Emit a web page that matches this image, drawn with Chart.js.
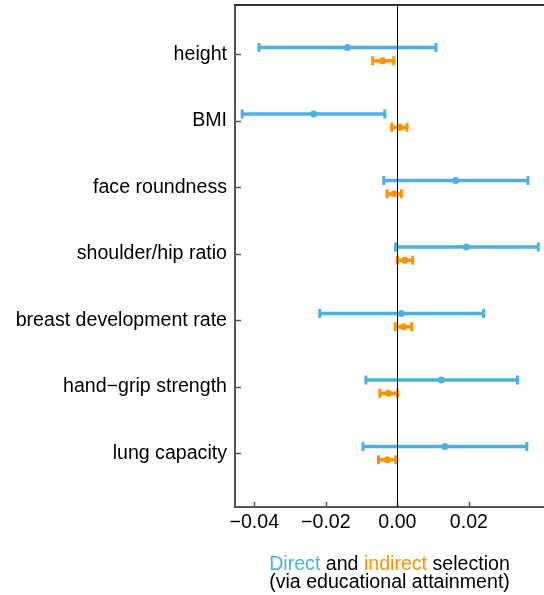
<!DOCTYPE html>
<html>
<head>
<meta charset="utf-8">
<script src="https://cdn.jsdelivr.net/npm/chart.js@4/dist/chart.umd.min.js"></script>
<style>
  html, body { margin: 0; padding: 0; background: #fff; }
  #wrap { width: 544px; height: 595px; position: relative; }
</style>
</head>
<body>
<div id="wrap"><canvas id="chart"></canvas></div>
<script>
// traits, top to bottom
const traits = ["height", "BMI", "face roundness", "shoulder/hip ratio",
  "breast development rate", "hand\u2212grip strength", "lung capacity"];

// direct selection (blue): estimate and interval
const directMid = [-0.0140, -0.0234, 0.0163, 0.0193, 0.0011, 0.0123, 0.0133];
const directLo  = [-0.0387, -0.0434, -0.0038, -0.0005, -0.0217, -0.0088, -0.0096];
const directHi  = [0.0108, -0.0035, 0.0365, 0.0394, 0.0241, 0.0336, 0.0362];

// indirect selection via educational attainment (orange)
const indirectMid = [-0.0042, 0.0007, -0.0009, 0.0021, 0.0017, -0.0025, -0.0028];
const indirectLo  = [-0.0069, -0.0016, -0.0029, 0.0000, -0.0006, -0.0049, -0.0053];
const indirectHi  = [-0.0010, 0.0027, 0.0011, 0.0043, 0.0040, 0.0000, -0.0004];

const xTicks = [-0.04, -0.02, 0.00, 0.02];

const BLUE = "#4DB0E4";
const ORANGE = "#FF9200";
const FONT = '"Liberation Sans", Arial, Helvetica, sans-serif';

Chart.defaults.font.family = FONT;
Chart.defaults.font.size = 19.6;
Chart.defaults.color = "#000";

function fmt(v) {
  return (v < 0 ? "\u2212" : "") + Math.abs(v).toFixed(2);
}

// error bars with caps, drawn from the scales
const errorBars = {
  id: "errorBars",
  beforeDatasetsDraw(chart) {
    const { ctx, scales: { x, y } } = chart;
    chart.data.datasets.forEach((ds) => {
      ctx.save();
      ctx.strokeStyle = ds.borderColor;
      ds.data.forEach((p, i) => {
        const py = y.getPixelForValue(p.y);
        const x0 = x.getPixelForValue(ds.lo[i]);
        const x1 = x.getPixelForValue(ds.hi[i]);
        ctx.lineWidth = 3.5;
        ctx.beginPath();
        ctx.moveTo(x0, py);
        ctx.lineTo(x1, py);
        ctx.stroke();
        ctx.lineWidth = 3;
        ctx.beginPath();
        ctx.moveTo(x0, py - 4.5);
        ctx.lineTo(x0, py + 4.5);
        ctx.moveTo(x1, py - 4.5);
        ctx.lineTo(x1, py + 4.5);
        ctx.stroke();
      });
      ctx.restore();
    });
  }
};

// frame bits, inward ticks, zero line and two-colour axis title
const decorations = {
  id: "decorations",
  afterDraw(chart) {
    const { ctx, chartArea: a, scales: { x, y } } = chart;
    ctx.save();
    // top border
    ctx.strokeStyle = "#333";
    ctx.lineWidth = 2;
    ctx.beginPath();
    ctx.moveTo(a.left - 1, a.top);
    ctx.lineTo(a.right, a.top);
    ctx.stroke();
    // inward ticks
    ctx.strokeStyle = "#555";
    ctx.lineWidth = 1.5;
    ctx.beginPath();
    x.ticks.forEach((t) => {
      const px = Math.round(x.getPixelForValue(t.value)) + 0.5;
      ctx.moveTo(px, a.bottom);
      ctx.lineTo(px, a.bottom - 5);
    });
    y.ticks.forEach((t) => {
      const py = Math.round(y.getPixelForValue(t.value)) + 0.5;
      ctx.moveTo(a.left, py);
      ctx.lineTo(a.left + 6, py);
    });
    ctx.stroke();
    // zero line
    const zx = Math.round(x.getPixelForValue(0)) + 0.5;
    ctx.strokeStyle = "#000";
    ctx.lineWidth = 1;
    ctx.beginPath();
    ctx.moveTo(zx, a.top);
    ctx.lineTo(zx, a.bottom);
    ctx.stroke();
    // title
    ctx.font = "19.6px " + FONT;
    ctx.textBaseline = "alphabetic";
    ctx.textAlign = "left";
    const cx = (a.left + a.right) / 2;
    const parts = [["Direct", BLUE], [" and ", "#000"], ["indirect", ORANGE], [" selection", "#000"]];
    let w = parts.reduce((s, p) => s + ctx.measureText(p[0]).width, 0);
    let px = cx - w / 2;
    parts.forEach((p) => {
      ctx.fillStyle = p[1];
      ctx.fillText(p[0], px, 570);
      px += ctx.measureText(p[0]).width;
    });
    ctx.fillStyle = "#000";
    ctx.textAlign = "center";
    ctx.fillText("(via educational attainment)", cx, 588);
    ctx.restore();
  }
};

new Chart(document.getElementById("chart"), {
  type: "scatter",
  data: {
    datasets: [
      {
        label: "Direct",
        data: directMid.map((v, i) => ({ x: v, y: i - 0.1 })),
        lo: directLo, hi: directHi,
        borderColor: BLUE, backgroundColor: BLUE,
        pointRadius: 3.5, pointBorderWidth: 0
      },
      {
        label: "Indirect",
        data: indirectMid.map((v, i) => ({ x: v, y: i + 0.1 })),
        lo: indirectLo, hi: indirectHi,
        borderColor: ORANGE, backgroundColor: ORANGE,
        pointRadius: 3.5, pointBorderWidth: 0
      }
    ]
  },
  options: {
    responsive: true,
    maintainAspectRatio: false,
    animation: false,
    layout: { autoPadding: false, padding: { top: 5, right: 0, left: 0, bottom: 0 } },
    plugins: { legend: { display: false }, tooltip: { enabled: false } },
    scales: {
      x: {
        type: "linear",
        min: -0.0454, max: 0.041,
        afterBuildTicks: (s) => { s.ticks = xTicks.map((v) => ({ value: v })); },
        afterFit: (s) => { s.height = 88; s.paddingLeft = 0; s.paddingRight = 0; },
        grid: { display: false, drawTicks: false },
        border: { color: "#555", width: 2 },
        ticks: { padding: 4, callback: (v) => fmt(v), maxRotation: 0 }
      },
      y: {
        type: "linear",
        reverse: true,
        min: -0.74, max: 6.81,
        afterBuildTicks: (s) => { s.ticks = traits.map((t, i) => ({ value: i })); },
        afterFit: (s) => { s.width = 235; s.paddingTop = 0; s.paddingBottom = 0; },
        grid: { display: false, drawTicks: false },
        border: { color: "#555", width: 2 },
        ticks: { padding: 8, callback: (v) => traits[v] }
      }
    }
  },
  plugins: [errorBars, decorations]
});
</script>
</body>
</html>
